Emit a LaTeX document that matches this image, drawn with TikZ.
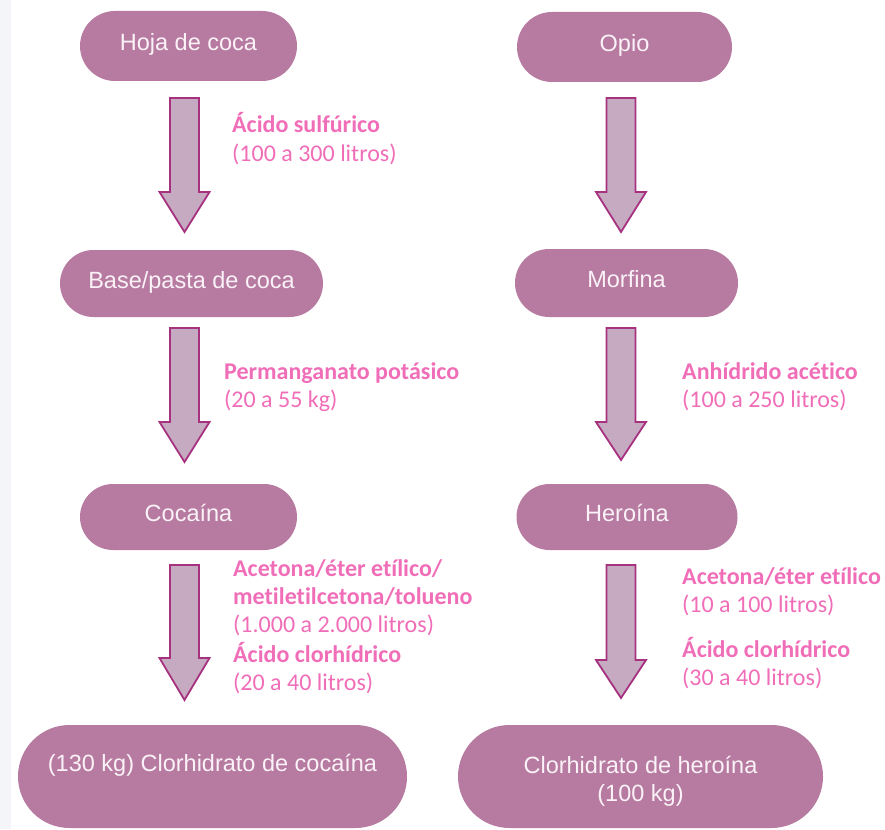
\documentclass[tikz,border=0pt]{standalone}
\usepackage{fontspec}
\setmainfont{Liberation Sans}
\newfontfamily\labfont[Ligatures=NoCommon]{Carlito}
\definecolor{pillfill}{HTML}{B77BA1}
\definecolor{pilltext}{HTML}{FAF2F7}
\definecolor{arrfill}{HTML}{C6AAC1}
\definecolor{arrdraw}{HTML}{A6317F}
\definecolor{labcol}{HTML}{F06DB8}
\definecolor{strip}{HTML}{F4F5F9}
\begin{document}
\begin{tikzpicture}[x=1pt,y=-1pt,
  pill/.style={fill=pillfill,draw=none,text=pilltext,inner sep=0pt,
    font=\fontsize{23.5}{28}\selectfont,text height=17pt,text depth=8pt},
  barrow/.style={fill=arrfill,draw=arrdraw,line width=1.8pt,line join=miter},
  lab/.style={anchor=base west,inner sep=0pt,text=labcol,font=\labfont\fontsize{24}{28}\selectfont},
  labb/.style={lab,font=\labfont\bfseries\fontsize{24}{28}\selectfont},
  ptext/.style={inner sep=0pt,text=pilltext,font=\fontsize{23.5}{28}\selectfont,anchor=base}]
\useasboundingbox (0,0) rectangle (885,829);
\fill[strip] (0,0) rectangle (11,829);
% pills
\node[pill,minimum width=217pt,minimum height=70pt,rounded corners=35pt] (hoja) at (188.5,46) {Hoja de coca};
\node[pill,minimum width=215pt,minimum height=70pt,rounded corners=35pt] (opio) at (624.5,47) {Opio};
\node[pill,minimum width=263pt,minimum height=67pt,rounded corners=33.5pt] (base) at (191.5,283.5) {Base/pasta de coca};
\node[pill,minimum width=223pt,minimum height=68pt,rounded corners=34pt] (morf) at (626.5,283) {Morfina};
\node[pill,minimum width=217pt,minimum height=66pt,rounded corners=33pt] (coca) at (188.5,517) {Cocaína};
\node[pill,minimum width=221pt,minimum height=66pt,rounded corners=33pt] (hero) at (627,517) {Heroína};
\node[pill,minimum width=389pt,minimum height=103pt,rounded corners=51.5pt] (clco) at (212.5,776.5) {};
\node[pill,minimum width=365pt,minimum height=103pt,rounded corners=51.5pt] (clhe) at (640.5,776.5) {};
\node[ptext] (clcot) at (212.5,771) {(130 kg) Clorhidrato de cocaína};
\node[ptext] (clhet1) at (640.5,773) {Clorhidrato de heroína};
\node[ptext] (clhet2) at (640.5,801) {(100 kg)};
% block arrows
\foreach \nm/\x/\t/\hb/\tp in {a1/184.5/98/192/232, a2/184.5/328/422/462, a3/184.5/565/658/700,
                               b1/621/98/192/232, b2/621/328/422/460, b3/621/565/660/698}{
  \coordinate (\nm) at (\x,\t);
  \draw[barrow] (\x-14.5,\t) -- (\x+14.5,\t) -- (\x+14.5,\hb) -- (\x+25,\hb) -- (\x,\tp)
     -- (\x-25,\hb) -- (\x-14.5,\hb) -- cycle;
}
% labels
\node[labb] (l1a) at (232,133) {Ácido sulfúrico};
\node[lab]  (l1b) at (232,161) {(100 a 300 litros)};
\node[labb] (l2a) at (224,379) {Permanganato potásico};
\node[lab]  (l2b) at (224,407) {(20 a 55 kg)};
\node[labb] (l3a) at (233,576) {Acetona/éter etílico/};
\node[labb] (l3b) at (233,604) {metiletilcetona/tolueno};
\node[lab]  (l3c) at (233,632) {(1.000 a 2.000 litros)};
\node[labb] (l3d) at (233,662) {Ácido clorhídrico};
\node[lab]  (l3e) at (233,690) {(20 a 40 litros)};
\node[labb] (r2a) at (682,379) {Anhídrido acético};
\node[lab]  (r2b) at (682,407) {(100 a 250 litros)};
\node[labb] (r3a) at (682,584) {Acetona/éter etílico};
\node[lab]  (r3b) at (682,612) {(10 a 100 litros)};
\node[labb] (r3c) at (682,657) {Ácido clorhídrico};
\node[lab]  (r3d) at (682,685) {(30 a 40 litros)};
\end{tikzpicture}
\end{document}
